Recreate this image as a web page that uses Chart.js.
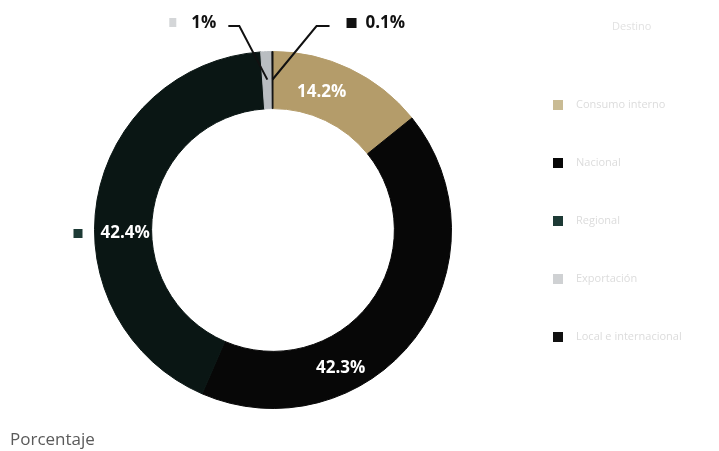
<!DOCTYPE html>
<html>
<head>
<meta charset="utf-8">
<script src="https://cdn.jsdelivr.net/npm/chart.js@4.4.0/dist/chart.umd.min.js"></script>
<style>
  html, body { margin: 0; padding: 0; background: #fff; }
  #wrap { width: 719px; height: 451px; position: relative; }
</style>
</head>
<body>
<div id="wrap"><canvas id="myChart" width="719" height="451"></canvas></div>
<script>
// Datos del gráfico
const categorias = ['Consumo interno', 'Nacional', 'Regional', 'Exportación', 'Local e internacional'];
const porcentajes = [14.2, 42.3, 42.4, 1, 0.1];
const colores = ['#b49c6a', '#070707', '#0a1614', '#b9bdc1', '#111111'];
const tituloLeyenda = 'Destino';
const tituloEje = 'Porcentaje';

const fontBold = '"Open Sans", sans-serif';

// Etiquetas de porcentaje y leyenda dibujadas a mano
const labelsPlugin = {
    id: 'donutLabels',
    afterDatasetsDraw(chart) {
        const ctx = chart.ctx;
        const arcs = chart.getDatasetMeta(0).data;
        const fmt = v => v + '%';
        ctx.save();
        ctx.textBaseline = 'middle';

        // etiquetas dentro del anillo
        const inside = { 0: 0.37, 1: 0.67 };
        Object.keys(inside).forEach(k => {
            const a = arcs[k];
            const ang = a.startAngle + (a.endAngle - a.startAngle) * inside[k];
            const r = (a.innerRadius + a.outerRadius) / 2;
            ctx.font = 'bold 17px ' + fontBold;
            ctx.fillStyle = '#ffffff';
            ctx.textAlign = 'center';
            ctx.fillText(fmt(porcentajes[k]), a.x + Math.cos(ang) * r, a.y + Math.sin(ang) * r + 4);
        });

        // etiqueta 42.4% a la izquierda
        const g = arcs[2];
        ctx.fillStyle = '#1d3a35';
        ctx.fillRect(g.x - g.outerRadius - 21, g.y - 1, 9, 9);
        ctx.font = 'bold 17px ' + fontBold;
        ctx.fillStyle = '#ffffff';
        ctx.textAlign = 'left';
        ctx.fillText(fmt(porcentajes[2]), g.x - g.outerRadius + 6, g.y + 3);

        // etiquetas con línea guía (segmentos pequeños)
        const guides = [
            { i: 3, side: -1, elbow: 28, run: 11 },
            { i: 4, side: 1, elbow: 44, run: 13 }
        ];
        guides.forEach(gd => {
            const a = arcs[gd.i];
            const ang = (a.startAngle + a.endAngle) / 2;
            const r = a.outerRadius - 28;
            const px = a.x + Math.cos(ang) * r;
            const py = a.y + Math.sin(ang) * r;
            const ey = 26;
            const ex = px + gd.side * gd.elbow;
            ctx.strokeStyle = '#111';
            ctx.lineWidth = 2;
            ctx.beginPath();
            ctx.moveTo(px, py);
            ctx.lineTo(ex, ey);
            ctx.lineTo(ex + gd.side * gd.run, ey);
            ctx.stroke();
            ctx.font = 'bold 17px ' + fontBold;
            ctx.fillStyle = '#111';
            const txt = fmt(porcentajes[gd.i]);
            const tw = ctx.measureText(txt).width;
            let tx;
            if (gd.side < 0) {
                ctx.textAlign = 'right';
                tx = ex + gd.side * gd.run - 12;
                ctx.fillText(txt, tx, ey - 3);
                ctx.fillStyle = '#d4d6d8';
                ctx.fillRect(tx - tw - 22, ey - 8, 7, 9);
            } else {
                ctx.textAlign = 'left';
                tx = ex + gd.side * gd.run + 36;
                ctx.fillText(txt, tx, ey - 3);
                ctx.fillStyle = colores[gd.i];
                ctx.fillRect(tx - 19, ey - 8, 10, 10);
            }
        });

        // leyenda (texto muy claro)
        ctx.textAlign = 'left';
        ctx.font = '11px ' + fontBold;
        ctx.fillStyle = '#e2e2e2';
        ctx.fillText(tituloLeyenda, 612, 27);
        categorias.forEach((c, i) => {
            const y = 105 + i * 58;
            ctx.fillStyle = i === 0 ? '#c9bb94' : (i === 3 ? '#cfd1d3' : (i === 2 ? '#1d3a35' : colores[i]));
            ctx.fillRect(553, y - 5, 10, 10);
            ctx.fillStyle = '#dcdcdc';
            ctx.fillText(c, 576, y);
        });

        // título inferior
        ctx.font = '17px ' + fontBold;
        ctx.fillStyle = '#5a5a5a';
        ctx.fillText(tituloEje, 10, 440);
        ctx.restore();
    }
};

const cty = document.getElementById('myChart').getContext('2d');
new Chart(cty, {
    type: 'doughnut',
    data: {
        labels: categorias,
        datasets: [{
            data: porcentajes,
            backgroundColor: colores,
            borderColor: colores,
            borderWidth: 1
        }]
    },
    options: {
        responsive: false,
        animation: false,
        cutout: '68%',
        layout: {
            padding: { left: 94, right: 267, top: 51, bottom: 42 }
        },
        plugins: {
            legend: { display: false },
            tooltip: { enabled: false }
        }
    },
    plugins: [labelsPlugin]
});
</script>
</body>
</html>
